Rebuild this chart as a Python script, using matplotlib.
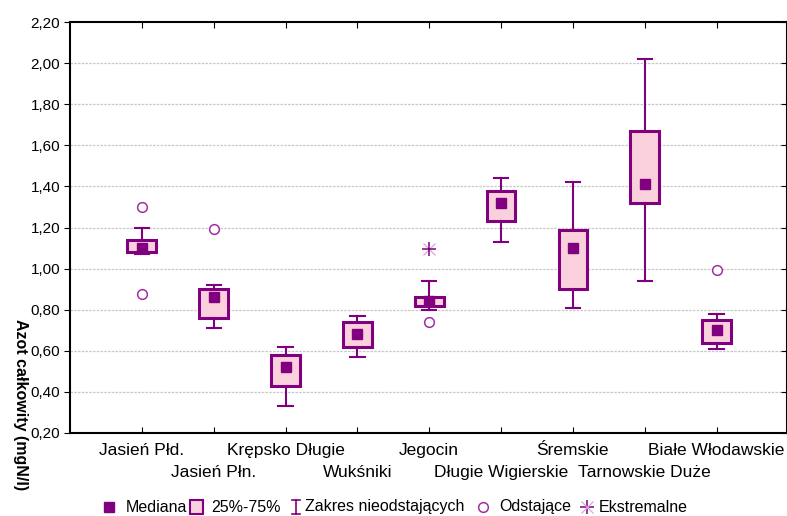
import matplotlib
matplotlib.use("Agg")
import matplotlib.pyplot as plt
import numpy as np
from matplotlib.ticker import FuncFormatter

plt.rcParams['font.family'] = ['Liberation Sans', 'DejaVu Sans']

# lakes and box statistics (total nitrogen, mgN/l)
lakes = ["Jasień Płd.", "Jasień Płn.", "Krępsko Długie", "Wukśniki", "Jegocin",
         "Długie Wigierskie", "Śremskie", "Tarnowskie Duże", "Białe Włodawskie"]
median = [1.10, 0.86, 0.52, 0.68, 0.84, 1.32, 1.10, 1.41, 0.70]
q1 = [1.08, 0.76, 0.43, 0.62, 0.82, 1.23, 0.90, 1.32, 0.64]
q3 = [1.14, 0.90, 0.58, 0.74, 0.86, 1.38, 1.19, 1.67, 0.75]
whis_lo = [1.07, 0.71, 0.33, 0.57, 0.80, 1.13, 0.81, 0.94, 0.61]
whis_hi = [1.20, 0.92, 0.62, 0.77, 0.94, 1.44, 1.42, 2.02, 0.78]

# outliers (lake index, value) and extremes
outlier_idx = [0, 0, 1, 4, 8]
outlier_val = [1.30, 0.875, 1.195, 0.74, 0.995]
extreme_idx = [4]
extreme_val = [1.095]

purple = "#800080"
light_purple = "#A030A0"
pink = "#FAD0DC"

fig = plt.figure(figsize=(7.87, 5.16), dpi=100)
ax = fig.add_axes([70 / 787, 83 / 516, 717 / 787, 411 / 516])

pos = np.arange(len(lakes))
stats = []
for i in range(len(lakes)):
    stats.append(dict(med=median[i], q1=q1[i], q3=q3[i],
                      whislo=whis_lo[i], whishi=whis_hi[i], fliers=[]))

ax.bxp(stats, positions=pos, widths=0.4, capwidths=0.2, patch_artist=True,
       showfliers=False,
       boxprops=dict(facecolor=pink, edgecolor=purple, linewidth=2.2),
       whiskerprops=dict(color=purple, linewidth=1.5),
       capprops=dict(color=purple, linewidth=1.5),
       medianprops=dict(linewidth=0))

ax.plot(pos, median, ls="none", marker="s", ms=7.5, color=purple, zorder=5)
ax.plot(outlier_idx, outlier_val, ls="none", marker="o", ms=7,
        mfc="white", mec=light_purple, mew=1.1, zorder=5)
ax.plot(extreme_idx, extreme_val, ls="none", marker="+", ms=10,
        mec=purple, mew=1.1, zorder=5)
ax.plot(extreme_idx, extreme_val, ls="none", marker="x", ms=9,
        mec="#D8A8D8", mew=0.9, zorder=4)

ax.set_xlim(-1, 8.98)
ax.set_ylim(0.2, 2.2)
ax.set_yticks(np.arange(0.2, 2.21, 0.2))
ax.yaxis.set_major_formatter(FuncFormatter(lambda v, p: f"{v:.2f}".replace(".", ",")))
ax.set_xticks(pos)
ax.set_xticklabels(lakes)

for y in np.arange(0.4, 2.01, 0.2):
    ax.axhline(y, color="#C8C8C8", lw=0.9, ls=(0, (2, 1)), zorder=0)

ax.tick_params(axis="y", direction="out", length=4, labelsize=11, pad=3,
               right=True, labelright=False)
ax.tick_params(axis="x", direction="in", length=4, labelsize=12.5, top=True)
for t in ax.yaxis.get_major_ticks():
    t.tick2line.set_marker(0)
for i, t in enumerate(ax.xaxis.get_major_ticks()):
    t.set_pad(7 if i % 2 == 0 else 23)
for s in ax.spines.values():
    s.set_linewidth(1.5)

fig.text(20 / 787, 1 - 405 / 516, "Azot całkowity (mgN/l)", rotation=270,
         ha="center", va="center", fontsize=11.5, fontweight="bold")

# legend row along the bottom, in pixel units
lax = fig.add_axes([0, 0, 1, 1])
lax.set_xlim(0, 787)
lax.set_ylim(516, 0)
lax.axis("off")
ly = 507
fs = 11.5
lax.plot(109, ly, marker="s", ms=7, color=purple)
lax.text(126, ly, "Mediana", va="center", fontsize=fs)
lax.add_patch(plt.Rectangle((190, ly - 7), 13, 14, facecolor=pink,
                            edgecolor=purple, lw=1.5))
lax.text(211, ly, "25%-75%", va="center", fontsize=fs)
lax.plot([296, 296], [ly - 7, ly + 7], color=purple, lw=1.2)
lax.plot([292, 300], [ly - 7, ly - 7], color=purple, lw=1.2)
lax.plot([292, 300], [ly + 7, ly + 7], color=purple, lw=1.2)
lax.text(305, ly, "Zakres nieodstających", va="center", fontsize=fs)
lax.plot(483, ly, marker="o", ms=7, mfc="white", mec=light_purple, mew=1.1)
lax.text(499, ly, "Odstające", va="center", fontsize=fs)
lax.plot(587, ly, marker="+", ms=10, mec=purple, mew=1.1)
lax.plot(587, ly, marker="x", ms=9, mec="#D8A8D8", mew=0.9)
lax.text(599, ly, "Ekstremalne", va="center", fontsize=fs)

fig.savefig("out.png", dpi=100)
